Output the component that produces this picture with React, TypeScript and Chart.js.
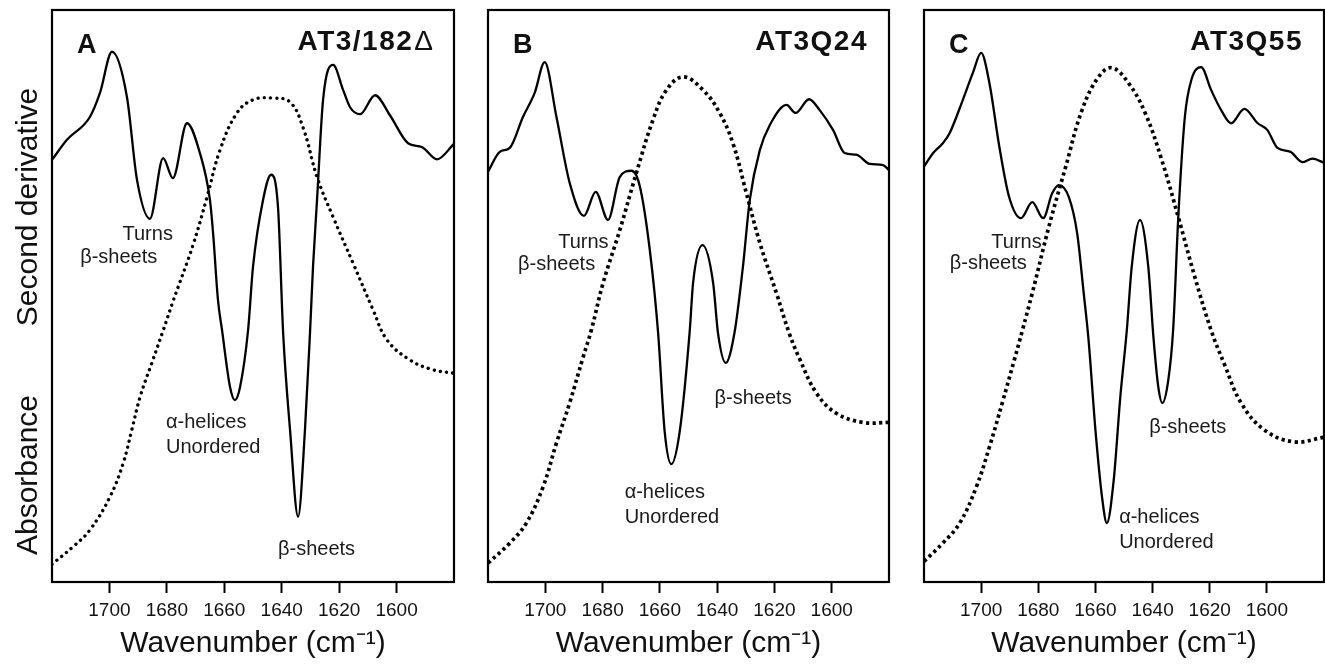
import React, { useEffect, useRef } from "react";
import { Chart, registerables } from "chart.js";

Chart.register(...registerables);

// ---------- data ----------
const X_MIN = 1580;
const X_MAX = 1720;
const X_TICKS = [1700, 1680, 1660, 1640, 1620, 1600];
const X_TITLE = "Wavenumber (cm\u207B\u00B9)";
const Y_LABEL_TOP = "Second derivative";
const Y_LABEL_BOTTOM = "Absorbance";

const PANEL_LETTERS = ["A", "B", "C"];
const PANEL_NAMES = ["AT3/182", "AT3Q24", "AT3Q55"];
const PANEL_NAME_SUFFIX = ["\u0394", "", ""];

// Panel A – AT3/182Δ
const A_DERIV_WN = [1720, 1714.8, 1706.8, 1703.3, 1699.1, 1693.9, 1690.4, 1685.9, 1681.3, 1677.9, 1673.0, 1668.5, 1665.0, 1663.9, 1662.2, 1660.8, 1658.0, 1656.3, 1654.5, 1651.7, 1650.0, 1646.5, 1643.7, 1641.3, 1639.5, 1637.1, 1634.3, 1631.9, 1630.1, 1629.1, 1627.7, 1625.6, 1622.1, 1618.6, 1616.2, 1612.7, 1607.5, 1602.3, 1596.0, 1591.1, 1585.9, 1580];
const A_DERIV = [73.8, 77.3, 81.3, 85.5, 92.7, 84.8, 70.3, 63.5, 74.1, 70.6, 80.2, 75.0, 66.8, 61.0, 49.3, 44.1, 34.1, 31.8, 34.1, 44.1, 55.1, 66.8, 71.2, 65.6, 43.5, 26.6, 11.4, 26.6, 44.1, 55.1, 66.8, 84.3, 90.4, 86.0, 83.0, 81.8, 85.1, 81.6, 76.7, 76.0, 73.9, 76.6];
const A_ABS_WN = [1720, 1712.6, 1706.8, 1699.8, 1695.2, 1692.2, 1689.3, 1685.3, 1681.2, 1677.9, 1670.9, 1666.0, 1661.5, 1655.6, 1650.0, 1643.0, 1637.1, 1632.6, 1627.7, 1622.1, 1615.2, 1608.2, 1603.3, 1595.3, 1587.3, 1580];
const A_ABS = [3.1, 6.2, 9.1, 14.9, 20.8, 26.6, 32.4, 38.2, 44.1, 49.0, 58.9, 67.3, 75.5, 82.0, 84.3, 84.6, 83.9, 79.5, 70.8, 63.8, 55.8, 47.6, 42.3, 38.8, 37.1, 36.5];

// Panel B – AT3Q24
const B_DERIV_WN = [1720, 1715.9, 1712.4, 1707.8, 1703.7, 1700.2, 1696.1, 1691.5, 1686.5, 1682.4, 1678.1, 1674.0, 1669.9, 1667.0, 1663.5, 1660.6, 1658.3, 1656.0, 1653.1, 1649.6, 1648.4, 1645.1, 1641.4, 1639.7, 1637.0, 1633.9, 1631.0, 1628.6, 1625.1, 1621.6, 1615.8, 1612.6, 1607.9, 1604.2, 1599.5, 1595.5, 1591.4, 1586.7, 1582.1, 1580];
const B_DERIV = [71.7, 75.2, 75.9, 81.3, 85.5, 90.9, 81.3, 69.8, 64.0, 68.2, 63.3, 70.8, 71.9, 69.2, 58.0, 43.5, 26.2, 20.6, 26.2, 43.7, 52.3, 58.9, 52.3, 43.5, 38.3, 43.7, 55.1, 66.8, 75.5, 79.9, 83.4, 82.0, 84.4, 82.5, 79.0, 75.0, 74.7, 73.1, 72.9, 72.0];
const B_ABS_WN = [1720, 1712.4, 1706.6, 1700.8, 1696.1, 1691.5, 1686.8, 1683.9, 1679.8, 1674.0, 1668.2, 1662.4, 1657.7, 1651.9, 1644.9, 1639.1, 1634.5, 1629.8, 1625.1, 1619.3, 1614.7, 1611.2, 1605.3, 1598.4, 1589.1, 1580];
const B_ABS = [3.3, 6.8, 10.3, 16.6, 24.3, 31.3, 39.3, 44.1, 52.3, 61.5, 71.5, 80.8, 86.0, 88.3, 86.0, 82.0, 76.7, 68.0, 59.3, 50.5, 43.3, 39.0, 33.0, 29.5, 27.9, 27.9];

// Panel C – AT3Q55
const C_DERIV_WN = [1720, 1716.8, 1713.4, 1711.0, 1706.4, 1702.9, 1700.0, 1697.1, 1693.6, 1690.2, 1686.1, 1682.1, 1678.3, 1675.1, 1672.8, 1669.3, 1666.4, 1664.1, 1662.4, 1660.0, 1657.7, 1656.0, 1653.6, 1651.3, 1649.0, 1647.3, 1644.4, 1641.5, 1639.7, 1638.0, 1636.6, 1634.5, 1632.8, 1631.0, 1628.7, 1626.4, 1623.0, 1619.5, 1616.0, 1612.5, 1607.9, 1603.2, 1599.8, 1596.3, 1591.7, 1587.6, 1584.1, 1580];
const C_DERIV = [72.6, 75.0, 76.7, 78.5, 84.3, 89.0, 92.5, 87.2, 76.0, 67.3, 63.6, 66.4, 63.6, 68.0, 69.4, 67.3, 61.0, 50.5, 42.3, 26.6, 14.9, 10.3, 17.8, 32.3, 44.1, 55.1, 63.3, 55.1, 42.8, 34.1, 31.3, 35.3, 44.1, 63.8, 81.3, 87.8, 90.0, 86.0, 82.5, 80.2, 82.7, 80.2, 79.0, 75.9, 75.2, 73.4, 74.0, 73.3];
const C_ABS_WN = [1720, 1713.4, 1707.5, 1701.7, 1697.1, 1692.5, 1688.4, 1685.5, 1682.1, 1676.3, 1670.4, 1664.7, 1658.9, 1654.2, 1648.4, 1642.6, 1636.8, 1631.0, 1625.2, 1619.5, 1614.8, 1609.0, 1600.9, 1590.5, 1580];
const C_ABS = [3.6, 6.8, 10.3, 16.6, 23.6, 31.5, 38.8, 44.1, 50.5, 62.1, 72.6, 82.5, 88.3, 89.9, 87.2, 82.0, 73.8, 63.8, 53.3, 44.0, 38.0, 31.3, 26.6, 24.5, 25.3];

// Band-assignment labels (placed at wavenumber / value coordinates)
const A_LABEL_TEXT = ["Turns", "\u03B2-sheets", "\u03B1-helices", "Unordered", "\u03B2-sheets"];
const A_LABEL_WN = [1677.9, 1710.2, 1680.3, 1680.3, 1641.3];
const A_LABEL_V = [59.8, 55.8, 26.9, 22.6, 4.7];
const A_LABEL_ALIGN = ["right", "left", "left", "left", "left"];

const B_LABEL_TEXT = ["Turns", "\u03B2-sheets", "\u03B1-helices", "Unordered", "\u03B2-sheets"];
const B_LABEL_WN = [1677.9, 1709.5, 1672.3, 1672.3, 1640.9];
const B_LABEL_V = [58.4, 54.5, 14.7, 10.3, 31.1];
const B_LABEL_ALIGN = ["right", "left", "left", "left", "left"];

const C_LABEL_TEXT = ["Turns", "\u03B2-sheets", "\u03B1-helices", "Unordered", "\u03B2-sheets"];
const C_LABEL_WN = [1678.8, 1711.0, 1651.7, 1651.7, 1641.2];
const C_LABEL_V = [58.4, 54.7, 10.3, 5.9, 26.0];
const C_LABEL_ALIGN = ["right", "left", "left", "left", "left"];

// ---------- helpers ----------
const FONT = "'Liberation Sans', Arial, Helvetica, sans-serif";
const INK = "#111";

const zip = (xs: number[], ys: number[]) => xs.map((x, i) => ({ x, y: ys[i] }));

type PanelDef = {
  idx: number;
  left: number;
  width: number;
  padLeft: number;
  padRight: number;
  deriv: { x: number; y: number }[];
  abs: { x: number; y: number }[];
  dash: number[];
  dashCap: "round" | "butt";
  dashWidth: number;
  labels: { t: string; wn: number; v: number; a: string }[];
  yLabels: boolean;
};

const mkLabels = (t: string[], wn: number[], v: number[], a: string[]) =>
  t.map((s, i) => ({ t: s, wn: wn[i], v: v[i], a: a[i] }));

const PANELS: PanelDef[] = [
  {
    idx: 0, left: 0, width: 470, padLeft: 52, padRight: 16,
    deriv: zip(A_DERIV_WN, A_DERIV), abs: zip(A_ABS_WN, A_ABS),
    dash: [0.01, 6.2], dashCap: "round", dashWidth: 3.4,
    labels: mkLabels(A_LABEL_TEXT, A_LABEL_WN, A_LABEL_V, A_LABEL_ALIGN),
    yLabels: true,
  },
  {
    idx: 1, left: 470, width: 430, padLeft: 18, padRight: 11,
    deriv: zip(B_DERIV_WN, B_DERIV), abs: zip(B_ABS_WN, B_ABS),
    dash: [3.2, 3.4], dashCap: "butt", dashWidth: 3.7,
    labels: mkLabels(B_LABEL_TEXT, B_LABEL_WN, B_LABEL_V, B_LABEL_ALIGN),
    yLabels: false,
  },
  {
    idx: 2, left: 900, width: 425, padLeft: 24, padRight: 1,
    deriv: zip(C_DERIV_WN, C_DERIV), abs: zip(C_ABS_WN, C_ABS),
    dash: [3.2, 3.4], dashCap: "butt", dashWidth: 3.7,
    labels: mkLabels(C_LABEL_TEXT, C_LABEL_WN, C_LABEL_V, C_LABEL_ALIGN),
    yLabels: false,
  },
];

function Panel({ def }: { def: PanelDef }) {
  const ref = useRef<HTMLCanvasElement | null>(null);

  useEffect(() => {
    if (!ref.current) return;

    const decor = {
      id: "decor",
      afterDraw(chart: any) {
        const { ctx, chartArea } = chart;
        const xs = chart.scales.x;
        const ys = chart.scales.y;
        ctx.save();
        // frame
        ctx.strokeStyle = "#000";
        ctx.lineWidth = 2.2;
        ctx.strokeRect(chartArea.left, chartArea.top, chartArea.right - chartArea.left, chartArea.bottom - chartArea.top);

        // panel letter
        ctx.fillStyle = INK;
        ctx.textBaseline = "alphabetic";
        ctx.font = `bold 27px ${FONT}`;
        ctx.textAlign = "left";
        ctx.fillText(PANEL_LETTERS[def.idx], chartArea.left + 25, chartArea.top + 43);

        // panel name (right aligned)
        const suffix = PANEL_NAME_SUFFIX[def.idx];
        let rightX = chartArea.right - 21;
        ctx.textAlign = "right";
        if (suffix) {
          ctx.font = `28px ${FONT}`;
          ctx.fillText(suffix, rightX, chartArea.top + 40);
          rightX -= ctx.measureText(suffix).width + 1;
        }
        ctx.font = `bold 28px ${FONT}`;
        try { (ctx as any).letterSpacing = "1.5px"; } catch (e) {}
        ctx.fillText(PANEL_NAMES[def.idx], rightX, chartArea.top + 40);
        try { (ctx as any).letterSpacing = "0px"; } catch (e) {}

        // band labels
        ctx.font = `20px ${FONT}`;
        ctx.fillStyle = "#1a1a1a";
        def.labels.forEach((l) => {
          ctx.textAlign = l.a as CanvasTextAlign;
          ctx.fillText(l.t, xs.getPixelForValue(l.wn), ys.getPixelForValue(l.v));
        });

        // y-side labels
        if (def.yLabels) {
          ctx.font = `30px ${FONT}`;
          ctx.fillStyle = INK;
          ctx.textAlign = "center";
          ctx.textBaseline = "alphabetic";
          const draw = (txt: string, cy: number) => {
            ctx.save();
            ctx.translate(37, cy);
            ctx.rotate(-Math.PI / 2);
            ctx.fillText(txt, 0, 0);
            ctx.restore();
          };
          draw(Y_LABEL_TOP, 207);
          draw(Y_LABEL_BOTTOM, 475);
        }
        ctx.restore();
      },
    };

    const chart = new Chart(ref.current, {
      type: "line",
      data: {
        datasets: [
          {
            label: Y_LABEL_TOP,
            data: def.deriv,
            borderColor: "#000",
            borderWidth: 2.3,
            pointRadius: 0,
            fill: false,
            cubicInterpolationMode: "monotone",
            yAxisID: "y",
          },
          {
            label: Y_LABEL_BOTTOM,
            data: def.abs,
            borderColor: "#000",
            borderWidth: def.dashWidth,
            borderDash: def.dash,
            borderCapStyle: def.dashCap,
            pointRadius: 0,
            fill: false,
            tension: 0.4,
            yAxisID: "y2",
          },
        ],
      },
      options: {
        responsive: false,
        maintainAspectRatio: false,
        animation: false,
        events: [],
        layout: { padding: { left: def.padLeft, right: def.padRight, top: 10, bottom: 0 } },
        plugins: { legend: { display: false }, tooltip: { enabled: false } },
        scales: {
          x: {
            type: "linear",
            reverse: true,
            min: X_MIN,
            max: X_MAX,
            afterBuildTicks: (s: any) => {
              s.ticks = X_TICKS.map((v) => ({ value: v }));
            },
            afterFit: (s: any) => {
              s.height = 86;
            },
            grid: {
              display: true,
              drawOnChartArea: false,
              drawTicks: true,
              tickLength: 11,
              tickWidth: 2,
              tickColor: "#000",
            },
            border: { display: false },
            ticks: {
              color: INK,
              font: { size: 19, family: FONT },
              padding: 6,
              maxRotation: 0,
              autoSkip: false,
              callback: (v: any) => String(v),
            },
            title: {
              display: true,
              text: X_TITLE,
              color: INK,
              font: { size: 30, family: FONT },
              padding: { top: 0, bottom: 6 },
            },
          },
          y: { display: false, min: 0, max: 100 },
          y2: { display: false, min: 0, max: 100 },
        },
      },
      plugins: [decor],
    } as any);

    return () => chart.destroy();
  }, [def]);

  return (
    <canvas
      ref={ref}
      width={def.width}
      height={668}
      style={{ position: "absolute", left: def.left, top: 0, width: def.width, height: 668, display: "block" }}
    />
  );
}

export default function App() {
  return (
    <div style={{ position: "absolute", left: 0, top: 0, width: 1325, height: 668, background: "#fff", overflow: "hidden" }}>
      {PANELS.map((p) => (
        <Panel key={p.idx} def={p} />
      ))}
    </div>
  );
}
